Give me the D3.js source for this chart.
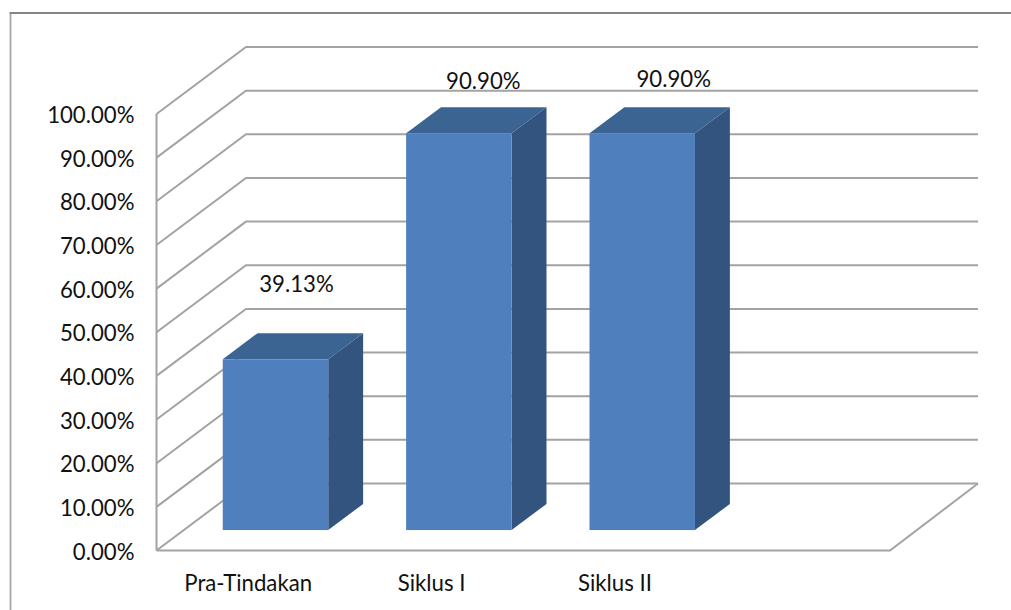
<!DOCTYPE html>
<html>
<head>
<meta charset="utf-8">
<script src="https://d3js.org/d3.v7.min.js"></script>
<style>
html, body { margin: 0; padding: 0; background: #fff; }
svg { display: block; }
text { font-family: Lato, "Open Sans", sans-serif; fill: #111; }
</style>
</head>
<body>
<script>
// values
var categories = ["Pra-Tindakan", "Siklus I", "Siklus II", " "];
var values = [39.13, 90.90, 90.90];
var valueLabels = ["39.13%", "90.90%", "90.90%"];
var yTicks = [0, 10, 20, 30, 40, 50, 60, 70, 80, 90, 100];

var width = 1011, height = 610;
var fontSize = 22.2;

// plot box, front plane
var left = 156.5, right = 890, bottom = 550.5, top100 = 114;
// depth of the fake 3d floor
var depthX = 89.5, depthY = -67;
// bars sit part of the way into the floor
var barNear = 0.305, barFar = 0.695;

var svg = d3.select("body").append("svg")
	.attr("width", width)
	.attr("height", height);

var x = d3.scaleBand().domain(categories).range([left, right]).paddingInner(0.4248).paddingOuter(0.2124);
var y = d3.scaleLinear().domain([0, 100]).range([bottom, top100]);

// outer frame, only top and left are visible
svg.append("line")
	.attr("x1", 10.5).attr("x2", 10.5).attr("y1", 13).attr("y2", height)
	.attr("stroke", "#a6a6a6").attr("stroke-width", 1.8);
svg.append("line")
	.attr("x1", 9.6).attr("x2", width).attr("y1", 13).attr("y2", 13)
	.attr("stroke", "#858585").attr("stroke-width", 1.8);

// walls
var grid = svg.append("g").attr("fill", "none").attr("stroke", "#a3a3a3").attr("stroke-width", 2);

grid.append("line").attr("x1", left).attr("x2", left).attr("y1", y(100)).attr("y2", y(0));

grid.selectAll("path.wall").data(yTicks).enter().append("path")
	.attr("class", "wall")
	.attr("d", function(d) {
		var p = d3.path();
		p.moveTo(left, y(d));
		p.lineTo(left + depthX, y(d) + depthY);
		p.lineTo(right + depthX - 1.5, y(d) + depthY);
		return p.toString();
	});

// floor front edge and right edge
grid.append("path")
	.attr("d", "M" + left + "," + y(0) + "H" + right + "L" + (right + depthX - 1.5) + "," + (y(0) + depthY));

// bars
var bars = svg.selectAll("g.bar").data(values).enter().append("g").attr("class", "bar");

function corner(i, v, t) {
	return [x(categories[i]) + depthX * t, y(v) + depthY * t];
}
function poly(pts) { return pts.map(function(p) { return p.join(","); }).join(" "); }

bars.append("polygon") // side
	.attr("fill", "#32547e")
	.attr("points", function(d, i) {
		var w = x.bandwidth();
		var a = corner(i, 0, barNear), b = corner(i, d, barNear), c = corner(i, d, barFar), e = corner(i, 0, barFar);
		return poly([[a[0] + w, a[1]], [b[0] + w, b[1]], [c[0] + w, c[1]], [e[0] + w, e[1]]]);
	});

bars.append("polygon") // top
	.attr("fill", "#3c6492")
	.attr("points", function(d, i) {
		var w = x.bandwidth();
		var b = corner(i, d, barNear), c = corner(i, d, barFar);
		return poly([b, [b[0] + w, b[1]], [c[0] + w, c[1]], c]);
	});

bars.append("rect") // front
	.attr("fill", "#4f7fbc")
	.attr("x", function(d, i) { return corner(i, d, barNear)[0]; })
	.attr("y", function(d, i) { return corner(i, d, barNear)[1]; })
	.attr("width", x.bandwidth())
	.attr("height", function(d) { return y(0) - y(d); });

// data labels were dragged by hand in the original, so each has its own nudge
var labelNudge = [[21, -41], [24.5, -18], [31.5, -20]];
svg.selectAll("text.value").data(values).enter().append("text")
	.attr("class", "value")
	.attr("text-anchor", "middle")
	.attr("font-size", fontSize)
	.attr("x", function(d, i) { return corner(i, d, barNear)[0] + x.bandwidth() / 2 + labelNudge[i][0]; })
	.attr("y", function(d, i) { return corner(i, d, barFar)[1] + labelNudge[i][1]; })
	.text(function(d, i) { return valueLabels[i]; });

// axes
var yAxis = svg.append("g")
	.attr("transform", "translate(" + left + ",1.5)")
	.call(d3.axisLeft(y).tickValues(yTicks).tickSize(0).tickPadding(22)
		.tickFormat(function(d) { return d.toFixed(2) + "%"; }));
var xAxis = svg.append("g")
	.attr("transform", "translate(0," + bottom + ")")
	.call(d3.axisBottom(x).tickSize(0).tickPadding(25));

yAxis.select(".domain").remove();
xAxis.select(".domain").remove();
yAxis.selectAll("text").attr("font-size", fontSize).attr("fill", "#111").style("font-family", "Lato");
xAxis.selectAll("text").attr("font-size", fontSize).attr("fill", "#111").style("font-family", "Lato");
</script>
</body>
</html>
